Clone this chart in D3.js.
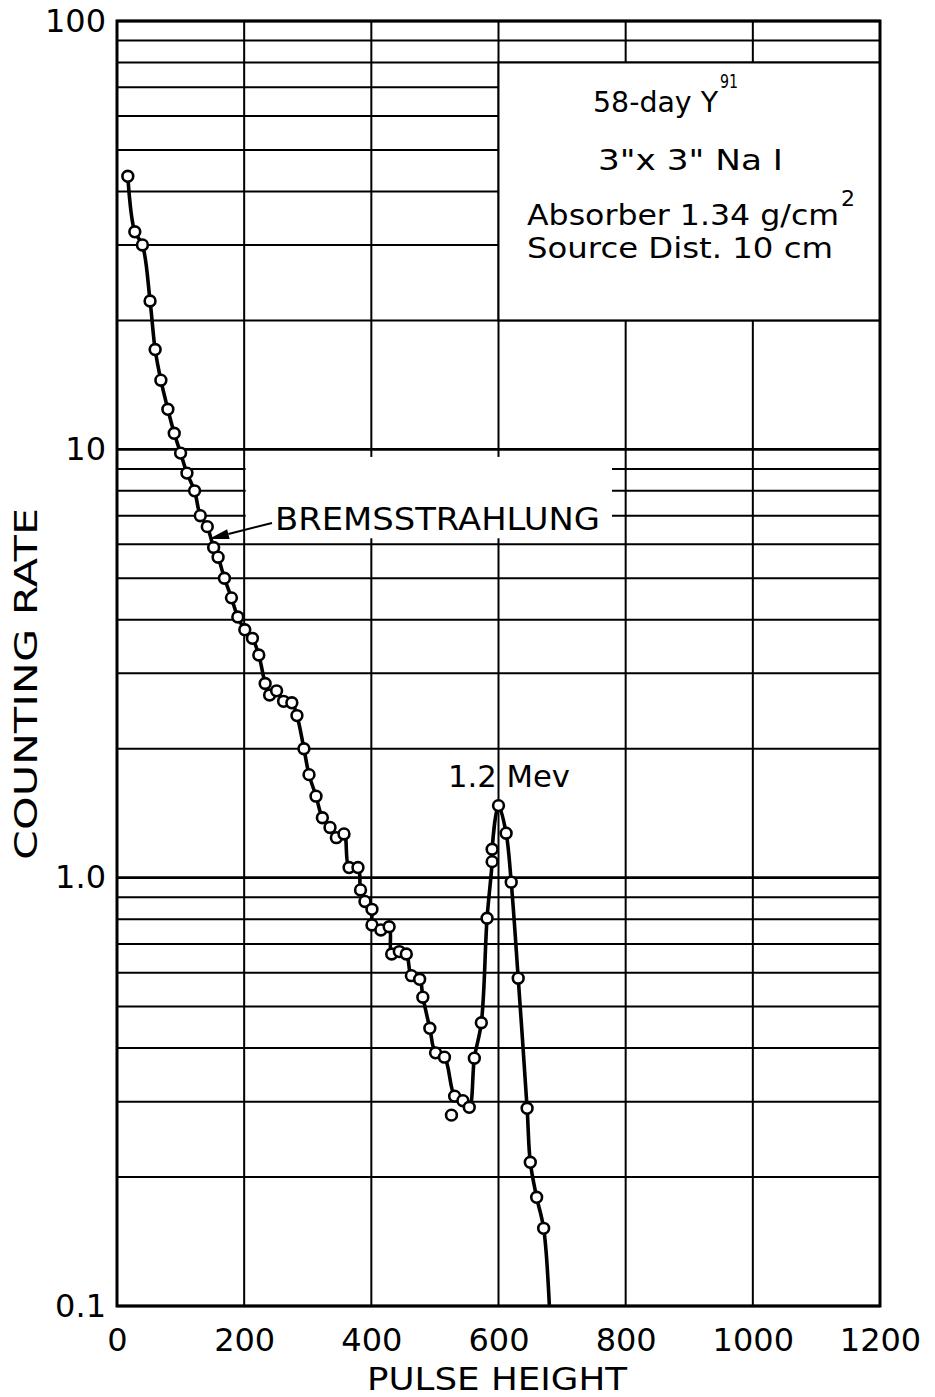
<!DOCTYPE html>
<html><head><meta charset="utf-8">
<script src="https://cdn.jsdelivr.net/npm/d3@7/dist/d3.min.js"></script>
<style>
body{margin:0;background:#fff}
text{font-family:"DejaVu Sans",sans-serif;fill:#000}
</style>
</head><body>
<svg id="chart" width="935" height="1397"></svg>
<script>
// ---- data ----
const pulseHeight = [17,28,40,52,60,69,80,90,100,110,122,131,142,152,159,169,180,190,201,213,223,233,240,251,262,275,283,294,302,313,323,335,345,357,365,379,383,390,401,401,415,428,432,444,455,463,476,481,492,501,515,531,544,554,562,573,582,590,590,600,612,620,631,645,650,660,671];
const countingRate = [43.4,32.2,30.0,22.2,17.1,14.5,12.4,10.9,9.8,8.8,8.0,7.0,6.6,5.9,5.6,5.0,4.5,4.06,3.79,3.62,3.31,2.84,2.67,2.73,2.58,2.56,2.39,2.0,1.74,1.55,1.38,1.31,1.24,1.265,1.056,1.056,0.936,0.88,0.8435,0.7755,0.755,0.768,0.6635,0.672,0.6635,0.5905,0.579,0.526,0.445,0.390,0.381,0.309,0.3015,0.291,0.379,0.4585,0.804,1.09,1.165,1.473,1.27,0.976,0.5825,0.2894,0.2165,0.1794,0.1518];
// stray (unconnected) measurement
const strayX = [526];
const strayY = [0.279];
// the drawn curve continues past the last point to the axis
const curveEndX = [680];
const curveEndY = [0.1];

const xTicks = [0,200,400,600,800,1000,1200];
const xTickLabels = ["0","200","400","600","800","1000","1200"];
const yTicks = [0.1,1,10,100];
const yTickLabels = ["0.1","1.0","10","100"];
const gridMultipliers = [1,2,3,4,5,6,7,8,9];
const gridDecades = [0.1,1,10];

const xLabel = "PULSE HEIGHT";
const yLabel = "COUNTING RATE";
const noteLines = ["58-day Y","3\"x 3\" Na I","Absorber  1.34 g/cm","Source Dist. 10 cm"];
const peakLabel = "1.2  Mev";
const bremsLabel = "BREMSSTRAHLUNG";

// ---- scales ----
const L = 117, R = 880, T = 21, B = 1306;
const x = d3.scaleLinear().domain([0,1200]).range([L,R]);
const y = d3.scaleLog().domain([0.1,100]).range([B,T]);

const svg = d3.select("#chart");

// grid
const hVals = [];
gridDecades.forEach(d => gridMultipliers.forEach(m => hVals.push(+(d*m).toPrecision(3))));
hVals.push(100);

svg.append("g").selectAll("line").data(hVals).join("line")
  .attr("x1",L).attr("x2",R)
  .attr("y1",d=>y(d)).attr("y2",d=>y(d))
  .attr("stroke","#000").attr("stroke-width",d=>[0.1,1,10,100].includes(d)?2.6:2);

svg.append("g").selectAll("line").data(xTicks).join("line")
  .attr("x1",d=>x(d)).attr("x2",d=>x(d))
  .attr("y1",T).attr("y2",B)
  .attr("stroke","#000").attr("stroke-width",2);

// annotation box (covers grid cells 600-1200 x 20-80)
svg.append("rect")
  .attr("x",x(600)).attr("y",y(80))
  .attr("width",x(1200)-x(600)).attr("height",y(20)-y(80))
  .attr("fill","#fff").attr("stroke","#000").attr("stroke-width",2);

// white patch behind BREMSSTRAHLUNG label
svg.append("rect")
  .attr("x",x(200)+1.5).attr("y",y(9.6))
  .attr("width",612-(x(200)+1.5)).attr("height",y(6.2)-y(9.6))
  .attr("fill","#fff");

// frame
svg.append("rect").attr("x",L).attr("y",T).attr("width",R-L).attr("height",B-T)
  .attr("fill","none").attr("stroke","#000").attr("stroke-width",3);

// axes (labels only)
const xAxis = d3.axisBottom(x).tickValues(xTicks).tickFormat((d,i)=>xTickLabels[i]).tickSize(0).tickPadding(22);
const gx = svg.append("g").attr("transform",`translate(0,${B})`).call(xAxis);
gx.select(".domain").remove();
gx.selectAll("text").attr("font-size",32).attr("font-family","DejaVu Sans").attr("fill","#000");

const yAxis = d3.axisLeft(y).tickValues(yTicks).tickFormat((d,i)=>yTickLabels[i]).tickSize(0).tickPadding(11);
const gy = svg.append("g").attr("transform",`translate(${L},0)`).call(yAxis);
gy.select(".domain").remove();
gy.selectAll("text").attr("font-size",32).attr("font-family","DejaVu Sans").attr("fill","#000");

// axis titles
svg.append("text").attr("x",497).attr("y",1390).attr("text-anchor","middle")
  .attr("font-size",32).attr("textLength",260).attr("lengthAdjust","spacingAndGlyphs").text(xLabel);
svg.append("text").attr("transform","translate(37,684) rotate(-90)").attr("text-anchor","middle")
  .attr("font-size",32).attr("textLength",352).attr("lengthAdjust","spacingAndGlyphs").text(yLabel);

// data curve
const pts = pulseHeight.map((v,i)=>[v,countingRate[i]]);
const curvePts = pts.concat(curveEndX.map((v,i)=>[v,curveEndY[i]]));
const line = d3.line().x(d=>x(d[0])).y(d=>y(d[1])).curve(d3.curveCatmullRom.alpha(0.5));
svg.append("path").datum(curvePts).attr("d",line)
  .attr("fill","none").attr("stroke","#000").attr("stroke-width",3.6).attr("stroke-linejoin","round");

const allMarkers = pts.concat(strayX.map((v,i)=>[v,strayY[i]]));
svg.append("g").selectAll("circle").data(allMarkers).join("circle")
  .attr("cx",d=>x(d[0])).attr("cy",d=>y(d[1])).attr("r",5.4)
  .attr("fill","#fff").attr("stroke","#000").attr("stroke-width",2.6);

// box texts
svg.append("text").attr("x",593).attr("y",112).attr("font-size",29)
  .attr("textLength",125).attr("lengthAdjust","spacingAndGlyphs").text(noteLines[0]);
svg.append("text").attr("x",720).attr("y",88).attr("font-size",20)
  .attr("textLength",18).attr("lengthAdjust","spacingAndGlyphs").text("91");
svg.append("text").attr("x",598).attr("y",170).attr("font-size",29)
  .attr("textLength",185).attr("lengthAdjust","spacingAndGlyphs").text(noteLines[1]);
svg.append("text").attr("x",527).attr("y",225).attr("font-size",29)
  .attr("textLength",312).attr("lengthAdjust","spacingAndGlyphs").text(noteLines[2]);
svg.append("text").attr("x",841).attr("y",206).attr("font-size",22).text("2");
svg.append("text").attr("x",527).attr("y",258).attr("font-size",29)
  .attr("textLength",306).attr("lengthAdjust","spacingAndGlyphs").text(noteLines[3]);

// peak label
svg.append("text").attr("x",448).attr("y",787).attr("font-size",30)
  .attr("textLength",122).attr("lengthAdjust","spacingAndGlyphs").text(peakLabel);

// bremsstrahlung label and arrow
svg.append("text").attr("x",275).attr("y",530).attr("font-size",32)
  .attr("textLength",325).attr("lengthAdjust","spacingAndGlyphs").text(bremsLabel);
const a0=[272,523], a1=[209,539];
const dx=a1[0]-a0[0], dy=a1[1]-a0[1], len=Math.hypot(dx,dy), ux=dx/len, uy=dy/len;
const hl=20, hw=5;
const bx=a1[0]-ux*hl, by=a1[1]-uy*hl;
svg.append("line").attr("x1",a0[0]).attr("y1",a0[1]).attr("x2",bx).attr("y2",by)
  .attr("stroke","#000").attr("stroke-width",2);
svg.append("polygon").attr("points",[[a1[0],a1[1]],[bx-uy*hw,by+ux*hw],[bx+uy*hw,by-ux*hw]].map(p=>p.join(",")).join(" "))
  .attr("fill","#000");
</script>
</body></html>
